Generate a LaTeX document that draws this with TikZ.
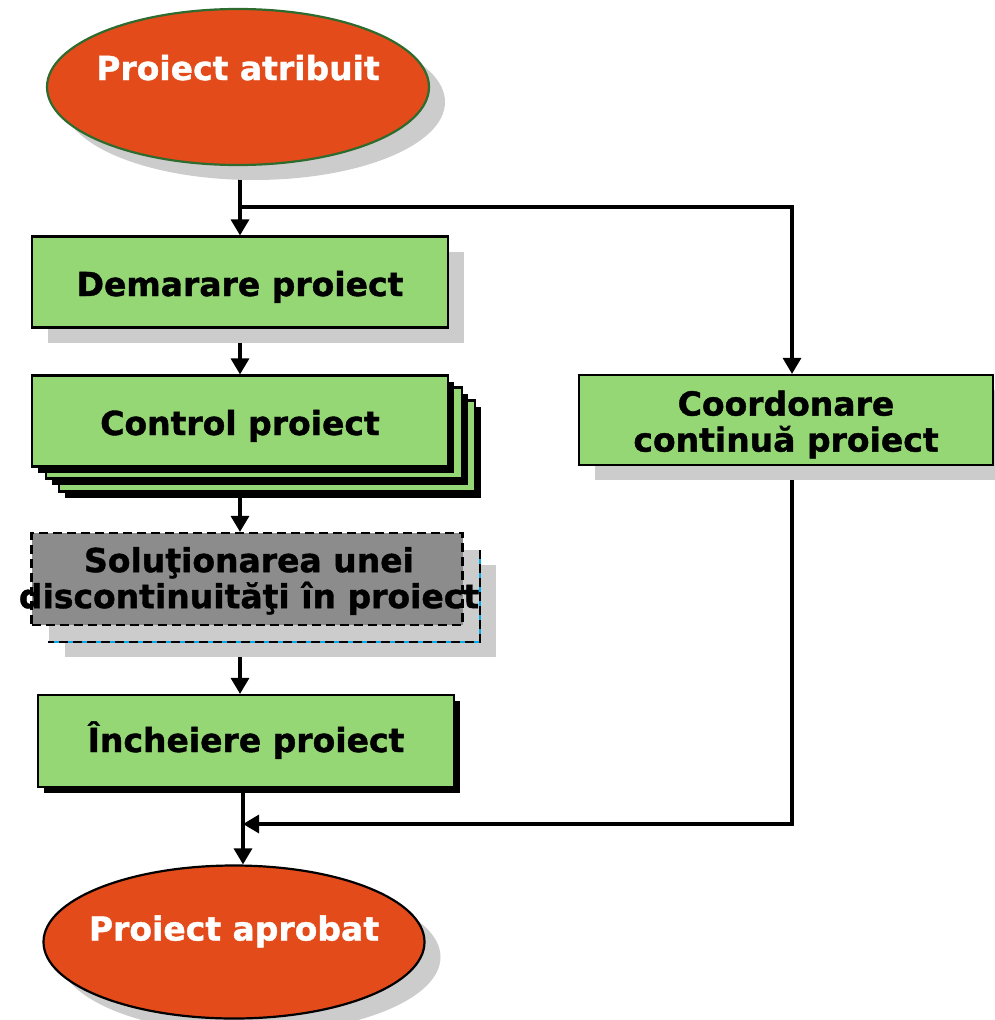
\documentclass[tikz,border=0pt]{standalone}
\usepackage{fontspec}
\setmainfont{DejaVu Sans}[BoldFeatures={FakeBold=1.2}]
\usetikzlibrary{shapes.geometric, shadows, arrows.meta, backgrounds}

\definecolor{projorange}{RGB}{227,76,26}
\definecolor{boxgreen}{RGB}{149,214,117}
\definecolor{edgegreen}{RGB}{46,107,46}
\definecolor{shadegray}{RGB}{204,204,204}
\definecolor{solgray}{RGB}{140,140,140}

\begin{document}
\begin{tikzpicture}[x=1pt, y=-1pt,
    every node/.style={font=\fontsize{33}{36}\selectfont\bfseries},
    term/.style={ellipse, draw, line width=2.2pt, fill=projorange, text=white,
      inner xsep=-20pt, minimum width=382pt, minimum height=156pt, text height=24pt},
    stepbox/.style={rectangle, draw, line width=2.2pt, fill=boxgreen, align=center,
      inner sep=0pt, minimum width=416pt, minimum height=91pt},
    grayshade/.style={drop shadow={shadow xshift=16pt, shadow yshift=-15pt, fill=shadegray, opacity=1}},
    blackshade/.style={drop shadow={shadow xshift=6pt, shadow yshift=-6pt, fill=black, opacity=1}},
    link/.style={line width=3.2pt, -{Triangle[width=18pt,length=16pt]}}]
    \useasboundingbox (0,0) rectangle (994,1020);

    \node[term, draw=edgegreen, grayshade, text depth=38pt] (S) at (238,87) {Proiect atribuit};
    \node[stepbox, grayshade, text height=30pt, text depth=2pt] (D) at (240,282) {Demarare proiect};

    \node[stepbox, blackshade] (Cc) at (267,446) {};
    \node[stepbox, blackshade] (Cb) at (254,433) {};
    \node[stepbox, blackshade, text height=30pt, text depth=2pt] (C) at (240,421) {Control proiect};

    \node[rectangle, fill=shadegray, grayshade, minimum width=431pt, minimum height=92pt] (Sb) at (264,596) {};
    \draw[cyan, line width=2.2pt] (Sb.north east) -- (Sb.south east) -- (Sb.south west);
    \draw[line width=2.2pt, dash pattern=on 9pt off 5pt] (Sb.north east) -- (Sb.south east) -- (Sb.south west);
    \node[rectangle, draw, fill=solgray, line width=2.2pt, dash pattern=on 9pt off 5pt,
      minimum width=431pt, minimum height=92pt] (Sl) at (247,579) {};
    \node[align=center] (St) at (249,581) {Soluţionarea unei\\discontinuităţi în proiect};

    \node[stepbox, blackshade, minimum height=92pt, text height=26pt, text depth=4pt] (I) at (246,741) {Încheiere proiect};
    \node[stepbox, grayshade, minimum width=414pt, minimum height=90pt] (K) at (786,420)
      {\rule{0pt}{34pt}Coordonare\\continuă proiect};

    \node[term, grayshade, minimum width=381pt, minimum height=153pt, text depth=27pt] (E) at (234,942) {Proiect aprobat};

    % connectors go under the shadows
    \begin{pgfonlayer}{background}
      \coordinate (split) at (240,207);
      \coordinate (merge) at (243,824);
      \draw[link] (S.south -| split) -- (split |- D.north);
      \draw[link] (split) -| ([xshift=6pt]K.north);
      \draw[link] (D.south) -- (C.north);
      \draw[link] (C.south) -- (C.south |- Sl.north);
      \draw[link] (C.south |- Sl.south) -- (C.south |- I.north);
      \draw[link] (merge |- I.south) -- (merge |- E.north);
      \draw[link] ([xshift=6pt]K.south) |- (merge);
    \end{pgfonlayer}
\end{tikzpicture}
\end{document}
